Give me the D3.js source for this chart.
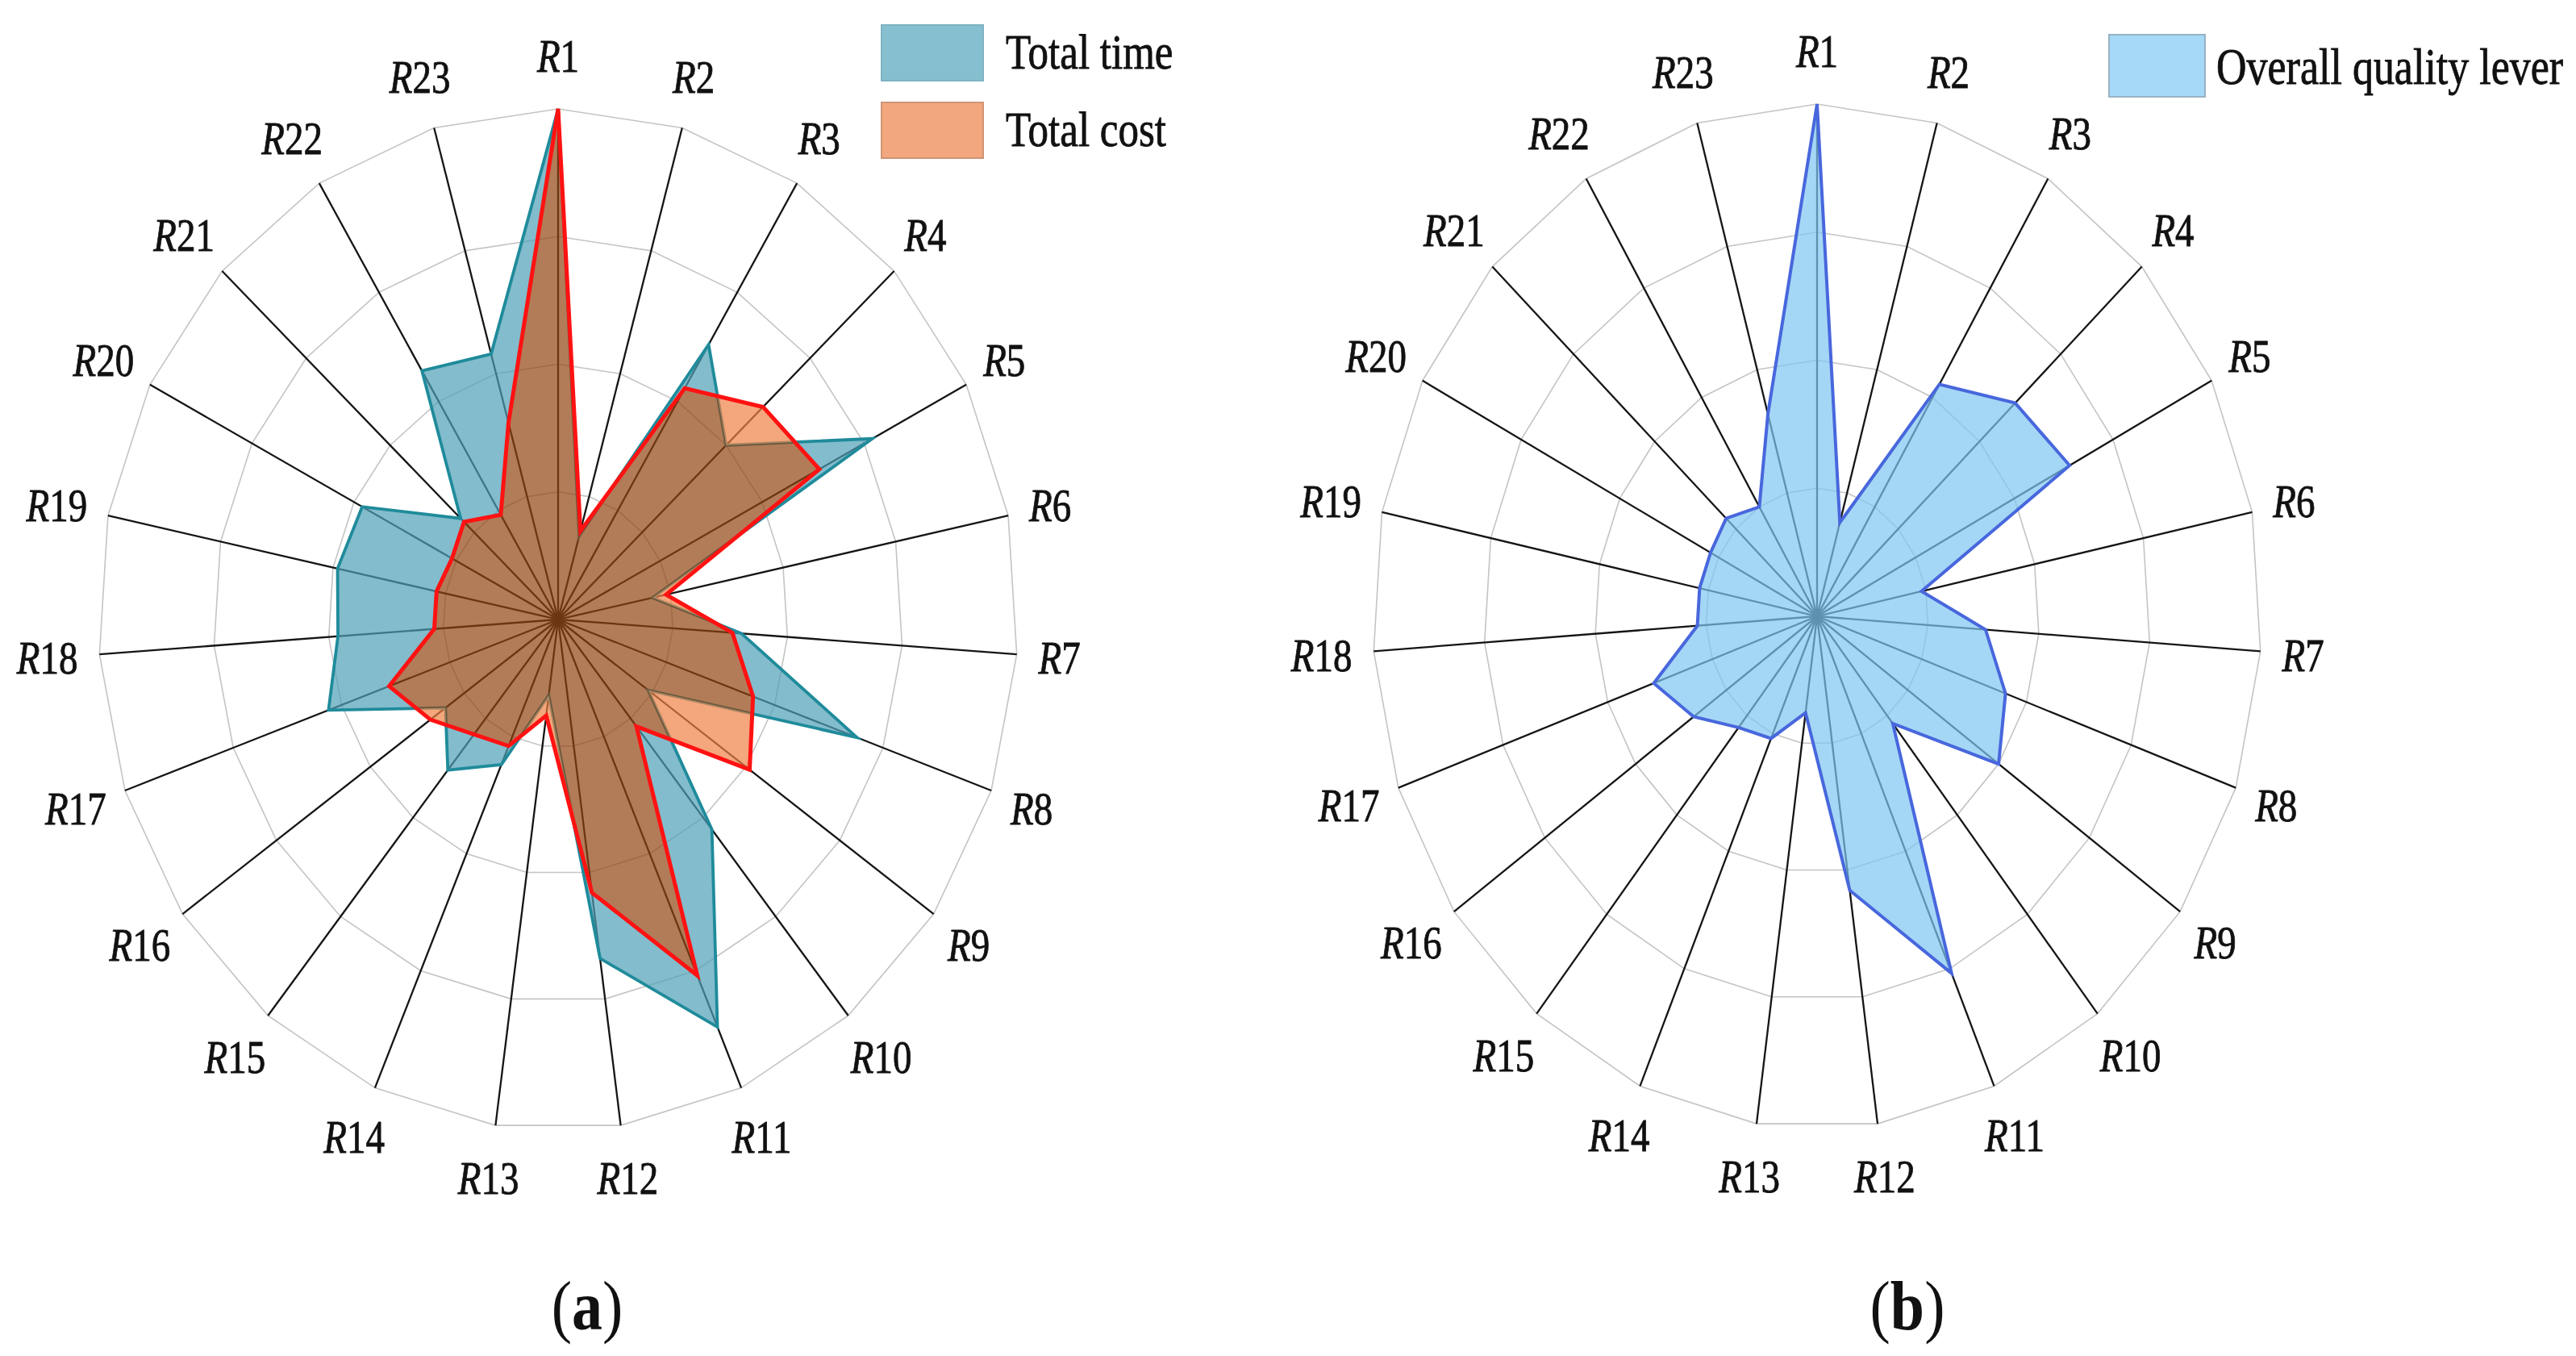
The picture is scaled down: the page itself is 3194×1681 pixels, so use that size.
<!DOCTYPE html>
<html>
<head>
<meta charset="utf-8">
<script src="https://cdn.jsdelivr.net/npm/d3@7"></script>
<style>
  html, body { margin: 0; padding: 0; background: #fff; }
  svg { display: block; }
</style>
</head>
<body>
<div id="chart"></div>
<script>
// ---- data (0..100 of the outer ring) ----
const CATEGORIES = [
  "R1", "R2", "R3", "R4", "R5", "R6", "R7", "R8", "R9", "R10", "R11", "R12",
  "R13", "R14", "R15", "R16", "R17", "R18", "R19", "R20", "R21", "R22", "R23",
];
const TOTAL_TIME = [100, 17, 63, 50, 77, 21, 40, 69, 24, 53, 87, 67, 15, 31, 38, 30, 53, 48, 49, 48, 29, 57, 54];
const TOTAL_COST = [100, 18, 53, 61, 64, 24, 38, 45, 51, 27, 76, 54, 19, 27, 29, 34, 39, 27, 27, 26, 28, 24, 40];
const QUALITY_LEVER = [100, 19, 53, 61, 64, 24, 38, 45, 50, 27, 76, 54, 19, 26, 28, 34, 39, 27, 27, 27, 28, 25, 41];
const RING_TICKS = [25, 50, 75, 100];
const MAX_VALUE = 100;
const LEGEND_A = ["Total time", "Total cost"];
const LEGEND_B = ["Overall quality lever"];
const CAPTIONS = ["a", "b"];

const LAYOUT = {
  width: 3194,
  height: 1681,
  font: "'Liberation Serif', 'Times New Roman', serif",
  stretch: 1.2, // the source picture is squeezed horizontally
  textStroke: 0.7, // the original serif is a bit heavier
  panels: [
    { cx: 692, cy: 768, rx: 570, ry: 633, caption: { x: 728, y: 1648 } },
    { cx: 2253, cy: 764, rx: 551, ry: 635, caption: { x: 2365, y: 1648 } },
  ],
};

const COLORS = {
  fillOpacity: 0.7,
  time: "#4f9fb6",
  timeStroke: "#1f8b9b",
  costOnly: "#ef8145",
  overlap: "#914413",
  costStroke: "#ff1212",
  quality: "#7ec6f1",
  qualityStroke: "#4867dd",
  grid: "#c4c4c4",
  spoke: "#151515",
  text: "#111",
};

const angleScale = d3.scaleLinear().domain([0, CATEGORIES.length]).range([0, 2 * Math.PI]);
const radiusScale = d3.scaleLinear().domain([0, MAX_VALUE]).range([0, 1]);
const polygon = d3.line().curve(d3.curveLinearClosed);

function buildSvg() {
  return d3
    .select("#chart")
    .append("svg")
    .attr("width", LAYOUT.width)
    .attr("height", LAYOUT.height)
    .attr("viewBox", `0 0 ${LAYOUT.width} ${LAYOUT.height}`)
    .style("font-family", LAYOUT.font)
    .style("background", "#fff");
}

function makePanel(svg, p) {
  const g = svg.append("g");
  const point = (i, v) => {
    const a = angleScale(i);
    const r = radiusScale(v);
    return [p.cx + Math.sin(a) * r * p.rx, p.cy - Math.cos(a) * r * p.ry];
  };
  const shape = (values) => polygon(values.map((v, i) => point(i, v)));
  return { g, p, point, shape };
}

function styleText(t) {
  return t
    .attr("fill", COLORS.text)
    .attr("stroke", COLORS.text)
    .attr("stroke-width", LAYOUT.textStroke);
}

function drawGrid(panel) {
  const { g, p, point } = panel;
  g.append("g")
    .selectAll("path")
    .data(RING_TICKS)
    .join("path")
    .attr("d", (t) => polygon(CATEGORIES.map((_, i) => point(i, t))))
    .attr("fill", "none")
    .attr("stroke", COLORS.grid)
    .attr("stroke-width", 1.6);

  g.append("g")
    .selectAll("line")
    .data(CATEGORIES)
    .join("line")
    .attr("x1", p.cx)
    .attr("y1", p.cy)
    .attr("x2", (_, i) => point(i, MAX_VALUE)[0])
    .attr("y2", (_, i) => point(i, MAX_VALUE)[1])
    .attr("stroke", COLORS.spoke)
    .attr("stroke-width", 2.3);
}

function drawLabels(panel) {
  const { g, p } = panel;
  CATEGORIES.forEach((name, i) => {
    const a = angleScale(i);
    const t = g
      .append("text")
      .attr("font-size", 47)
      .attr("text-anchor", "middle")
      .attr("dy", "0.35em");
    styleText(t);
    t.append("tspan").attr("font-style", "italic").text(name[0]);
    t.append("tspan").text(name.slice(1));
    const w = t.node().getComputedTextLength();
    const x = p.cx + Math.sin(a) * (p.rx + 27 + w / 2);
    const y = p.cy - Math.cos(a) * (p.ry + 66);
    t.attr("transform", `translate(${x},${y}) scale(1,${LAYOUT.stretch})`);
  });
}

// left panel: teal, orange and their overlap as three separate regions
function drawTimeCost(svg, panel) {
  const { g, shape } = panel;
  const defs = svg.append("defs");
  const timePath = shape(TOTAL_TIME);
  const costPath = shape(TOTAL_COST);

  const maskOut = (id, d) => {
    const m = defs
      .append("mask")
      .attr("id", id)
      .attr("maskUnits", "userSpaceOnUse")
      .attr("x", 0)
      .attr("y", 0)
      .attr("width", LAYOUT.width)
      .attr("height", LAYOUT.height);
    m.append("rect").attr("width", LAYOUT.width).attr("height", LAYOUT.height).attr("fill", "#fff");
    m.append("path").attr("d", d).attr("fill", "#000");
  };
  maskOut("no-cost", costPath);
  maskOut("no-time", timePath);
  defs.append("clipPath").attr("id", "in-time").append("path").attr("d", timePath);

  g.append("path")
    .attr("d", timePath)
    .attr("fill", COLORS.time)
    .attr("fill-opacity", COLORS.fillOpacity)
    .attr("mask", "url(#no-cost)");
  g.append("path")
    .attr("d", timePath)
    .attr("fill", "none")
    .attr("stroke", COLORS.timeStroke)
    .attr("stroke-width", 3.8);
  g.append("path")
    .attr("d", costPath)
    .attr("fill", COLORS.costOnly)
    .attr("fill-opacity", COLORS.fillOpacity)
    .attr("mask", "url(#no-time)");
  g.append("path")
    .attr("d", costPath)
    .attr("fill", COLORS.overlap)
    .attr("fill-opacity", COLORS.fillOpacity)
    .attr("clip-path", "url(#in-time)");
  g.append("path")
    .attr("d", costPath)
    .attr("fill", "none")
    .attr("stroke", COLORS.costStroke)
    .attr("stroke-width", 5);
}

function drawQuality(panel) {
  panel.g
    .append("path")
    .attr("d", panel.shape(QUALITY_LEVER))
    .attr("fill", COLORS.quality)
    .attr("fill-opacity", COLORS.fillOpacity)
    .attr("stroke", COLORS.qualityStroke)
    .attr("stroke-width", 4);
}

function drawLegend(svg, items, cfg) {
  items.forEach((label, i) => {
    const y = cfg.y + i * cfg.step;
    svg
      .append("rect")
      .attr("x", cfg.x)
      .attr("y", y)
      .attr("width", cfg.w)
      .attr("height", cfg.h)
      .attr("fill", cfg.colors[i])
      .attr("stroke", cfg.borders[i])
      .attr("stroke-width", 2);
    const t = svg
      .append("text")
      .attr("transform", `translate(${cfg.textX},${y + cfg.baseline}) scale(1,${LAYOUT.stretch})`)
      .attr("font-size", cfg.fontSize)
      .text(label);
    styleText(t);
  });
}

function drawCaption(svg, letter, pos) {
  const t = svg
    .append("text")
    .attr("transform", `translate(${pos.x},${pos.y}) scale(1,1.15)`)
    .attr("text-anchor", "middle")
    .attr("font-size", 76)
    .attr("fill", COLORS.text);
  t.append("tspan").text("(");
  t.append("tspan").attr("font-weight", "bold").text(letter);
  t.append("tspan").text(")");
}

const svg = buildSvg();
const left = makePanel(svg, LAYOUT.panels[0]);
const right = makePanel(svg, LAYOUT.panels[1]);

drawGrid(left);
drawTimeCost(svg, left);
drawLabels(left);

drawGrid(right);
drawQuality(right);
drawLabels(right);

drawLegend(svg, LEGEND_A, {
  x: 1093, y: 31, w: 126, h: 69, step: 96, textX: 1247, baseline: 54, fontSize: 51,
  colors: ["#86bfcf", "#f2a77e"], borders: ["#7fb3c2", "#cf9474"],
});
drawLegend(svg, LEGEND_B, {
  x: 2615, y: 43, w: 119, h: 77, step: 0, textX: 2748, baseline: 61, fontSize: 52,
  colors: ["#a6d9f7"], borders: ["#98b2c4"],
});

CAPTIONS.forEach((c, i) => drawCaption(svg, c, LAYOUT.panels[i].caption));
</script>
</body>
</html>
